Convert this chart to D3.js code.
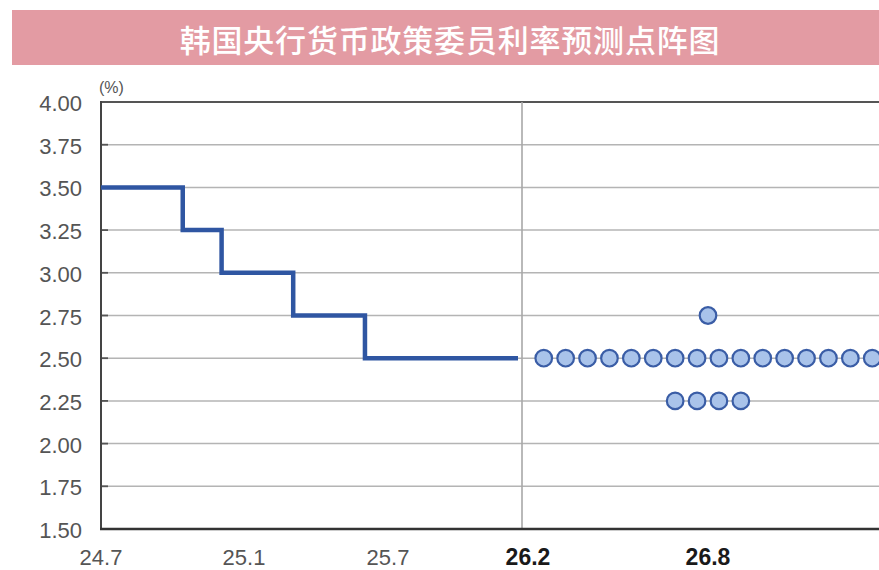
<!DOCTYPE html>
<html>
<head>
<meta charset="utf-8">
<script src="https://cdn.jsdelivr.net/npm/d3@7/dist/d3.min.js"></script>
<style>
  html, body { margin: 0; padding: 0; background: #ffffff; }
  svg { display: block; }
</style>
</head>
<body>
<div id="chart"></div>
<script>
// ---- data ----
const titleText = "韩国央行货币政策委员利率预测点阵图";
const unitLabel = "(%)";
const yTicks = [1.50, 1.75, 2.00, 2.25, 2.50, 2.75, 3.00, 3.25, 3.50, 3.75, 4.00];
const xTickLabels = ["24.7", "25.1", "25.7", "26.2", "26.8"];
const xTickMonths = [0, 6, 12, 19, 25];          // months since 2024.7
const xTickBold = [false, false, false, true, true];
// policy rate history (step changes), months since 2024.7
const stepMonths = [0, 3.43, 5.06, 8.05, 11.04, 18.5];
const stepRates  = [3.50, 3.25, 3.00, 2.75, 2.50, 2.50];
const dividerMonth = 18.7;
// dot plot (26.8 horizon)
const dotHorizonMonth = 25;
const dotRates  = [2.75, 2.50, 2.25];
const dotCounts = [1, 16, 4];

(function () {
  const W = 879, H = 570;
  const svg = d3.select("#chart").append("svg").attr("width", W).attr("height", H);

  // banner
  svg.append("rect").attr("x", 12).attr("y", 10).attr("width", W - 12 + 5).attr("height", 55)
    .attr("fill", "#e39ba3");
  svg.append("text").attr("x", 450).attr("y", 38)
    .attr("text-anchor", "middle").attr("dominant-baseline", "central")
    .attr("font-family", "'Noto Sans CJK SC', sans-serif").attr("font-weight", 500)
    .attr("font-size", 31).attr("letter-spacing", 0.8).attr("fill", "#ffffff")
    .text(titleText);

  const pLeft = 101, pTop = 102, pBottom = 529;
  const y = d3.scaleLinear().domain([1.5, 4.0]).range([pBottom, pTop]);
  const x = d3.scaleLinear().domain(xTickMonths).range([101, 244, 388, 528, 708]);

  // gridlines
  svg.append("g").selectAll("line").data(yTicks.filter(v => v > 1.5)).join("line")
    .attr("x1", pLeft).attr("x2", W).attr("y1", d => y(d)).attr("y2", d => y(d))
    .attr("stroke", d => d === 4.0 ? "#555" : "#b4b4b4")
    .attr("stroke-width", d => d === 4.0 ? 2 : 1.5);

  // small inward ticks
  svg.append("g").selectAll("line").data(yTicks).join("line")
    .attr("x1", pLeft).attr("x2", pLeft + 7).attr("y1", d => y(d)).attr("y2", d => y(d))
    .attr("stroke", "#555").attr("stroke-width", 1.8);

  // divider
  svg.append("line").attr("x1", x(dividerMonth)).attr("x2", x(dividerMonth))
    .attr("y1", pTop).attr("y2", pBottom)
    .attr("stroke", "#a8a8a8").attr("stroke-width", 1.6);

  // axes lines
  svg.append("line").attr("x1", pLeft).attr("x2", pLeft).attr("y1", pTop - 1).attr("y2", pBottom + 1)
    .attr("stroke", "#444").attr("stroke-width", 2);
  svg.append("line").attr("x1", pLeft - 1).attr("x2", W).attr("y1", pBottom).attr("y2", pBottom)
    .attr("stroke", "#333").attr("stroke-width", 2.5);

  // y tick labels
  svg.append("g").selectAll("text").data(yTicks).join("text")
    .attr("x", 82).attr("y", d => y(d) + 9)
    .attr("text-anchor", "end")
    .attr("font-family", "'Liberation Sans', Arial, sans-serif").attr("font-size", 22)
    .attr("fill", "#555")
    .text(d => d.toFixed(2));

  // unit label
  svg.append("text").attr("x", 99).attr("y", 93)
    .attr("font-family", "'Liberation Sans', Arial, sans-serif").attr("font-size", 16)
    .attr("fill", "#555").text(unitLabel);

  // x tick labels
  svg.append("g").selectAll("text").data(xTickLabels).join("text")
    .attr("x", (d, i) => x(xTickMonths[i])).attr("y", 565)
    .attr("text-anchor", "middle")
    .attr("font-family", "'Liberation Sans', Arial, sans-serif")
    .attr("font-size", (d, i) => xTickBold[i] ? 23 : 22)
    .attr("font-weight", (d, i) => xTickBold[i] ? "bold" : "normal")
    .attr("fill", (d, i) => xTickBold[i] ? "#1a1a1a" : "#555")
    .text(d => d);

  // step line
  const stepData = stepMonths.map((m, i) => ({ m, r: stepRates[i] }));
  svg.append("path").datum(stepData)
    .attr("d", d3.line().x(d => x(d.m)).y(d => y(d.r)).curve(d3.curveStepAfter))
    .attr("fill", "none").attr("stroke", "#2f56a2").attr("stroke-width", 4.5)
    .attr("stroke-linejoin", "miter");

  // dots
  const spacing = d3.scaleLinear().domain([0, 1]).range([0, 21.9]);
  const dots = [];
  dotRates.forEach((r, k) => {
    const n = dotCounts[k];
    for (let i = 0; i < n; i++) dots.push({ r, off: i - (n - 1) / 2 });
  });
  svg.append("g").selectAll("circle").data(dots).join("circle")
    .attr("cx", d => x(dotHorizonMonth) + spacing(d.off))
    .attr("cy", d => y(d.r))
    .attr("r", 8.3)
    .attr("fill", "#a9c3ea").attr("stroke", "#3a5da6").attr("stroke-width", 2.2);
})();
</script>
</body>
</html>
